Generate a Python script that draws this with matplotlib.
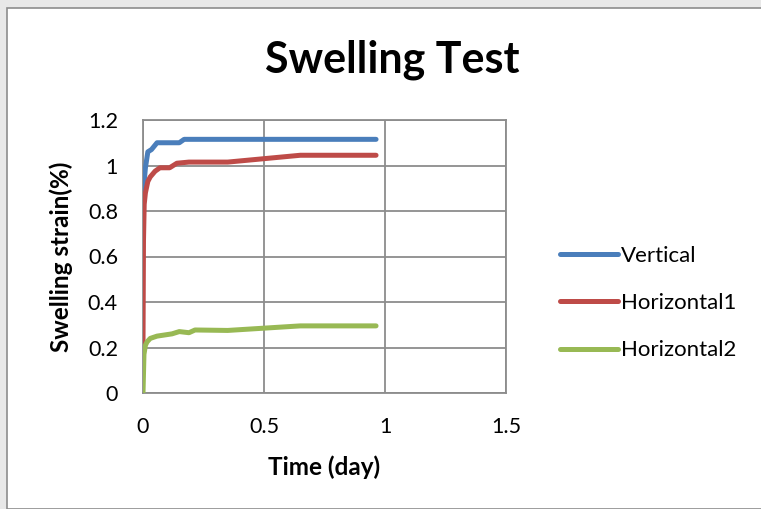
import matplotlib.pyplot as plt
from matplotlib.patches import Rectangle

# time (day) and swelling strain (%)
vertical_t = [0.0, 0.005, 0.01, 0.02, 0.035, 0.058, 0.10, 0.15, 0.17, 0.30, 0.60, 0.963]
vertical_s = [0.82, 0.93, 0.99, 1.06, 1.07, 1.10, 1.10, 1.10, 1.115, 1.115, 1.115, 1.115]

horiz1_t = [0.0, 0.002, 0.005, 0.01, 0.02, 0.03, 0.05, 0.07, 0.11, 0.14, 0.19, 0.35, 0.50, 0.65, 0.963]
horiz1_s = [0.22, 0.67, 0.83, 0.88, 0.93, 0.95, 0.975, 0.99, 0.99, 1.01, 1.015, 1.015, 1.03, 1.045, 1.045]

horiz2_t = [0.0, 0.004, 0.01, 0.017, 0.03, 0.058, 0.12, 0.15, 0.19, 0.215, 0.35, 0.50, 0.65, 0.963]
horiz2_s = [0.0, 0.17, 0.21, 0.225, 0.24, 0.25, 0.26, 0.27, 0.265, 0.277, 0.275, 0.285, 0.295, 0.295]

series_names = ['Vertical', 'Horizontal1', 'Horizontal2']
series_colors = ['#4a7ebb', '#be4b48', '#98b954']

x_ticks = [0, 0.5, 1, 1.5]
x_tick_labels = ['0', '0.5', '1', '1.5']
y_ticks = [0, 0.2, 0.4, 0.6, 0.8, 1.0, 1.2]
y_tick_labels = ['0', '0.2', '0.4', '0.6', '0.8', '1', '1.2']

plt.rcParams['font.family'] = ['Lato', 'DejaVu Sans']

W, H = 761, 509
fig = plt.figure(figsize=(W / 100, H / 100), dpi=100, facecolor='#e8e8e8')

# white chart area with grey frame, as in the screenshot
fig.patches.append(Rectangle((7 / W, 0), 1, 1 - 8 / H, transform=fig.transFigure,
                             facecolor='white', edgecolor='#8c8c8c', linewidth=1.2,
                             zorder=-10))

ax = fig.add_axes([143 / W, (H - 393) / H, (506 - 143) / W, (393 - 120) / H])
ax.set_facecolor('white')

for t, s, name, c in zip([vertical_t, horiz1_t, horiz2_t],
                         [vertical_s, horiz1_s, horiz2_s],
                         series_names, series_colors):
    ax.plot(t, s, color=c, linewidth=3.6, label=name, solid_capstyle='round',
            solid_joinstyle='round', zorder=3)

ax.set_xlim(0, 1.5)
ax.set_ylim(0, 1.2)
ax.set_xticks(x_ticks)
ax.set_xticklabels(x_tick_labels)
ax.set_yticks(y_ticks)
ax.set_yticklabels(y_tick_labels)
ax.grid(True, color='#8c8c8c', linewidth=1.3)
ax.set_axisbelow(True)
for sp in ax.spines.values():
    sp.set_color('#8c8c8c')
    sp.set_linewidth(1.3)
ax.tick_params(length=0, labelsize=15.5)
ax.tick_params(axis='x', pad=17)
ax.tick_params(axis='y', pad=18)

fig.text(324 / W, 1 - 467 / H, 'Time (day)', fontsize=17.5, fontweight='bold',
         ha='center', va='center')
fig.text(61 / W, 1 - 257 / H, 'Swelling strain(%)', fontsize=17.5, fontweight='bold',
         ha='center', va='center', rotation=90)

fig.text(392 / W, 1 - 60 / H, 'Swelling Test', fontsize=31, fontweight='bold',
         ha='center', va='center')

ax.legend(loc='center left', bbox_to_anchor=(560 / W, 1 - 303 / H),
          bbox_transform=fig.transFigure, frameon=False, fontsize=16,
          handlelength=2.6, handletextpad=0.15, labelspacing=1.23, borderaxespad=0,
          borderpad=0)

fig.savefig('out.png', dpi=100, facecolor=fig.get_facecolor())
